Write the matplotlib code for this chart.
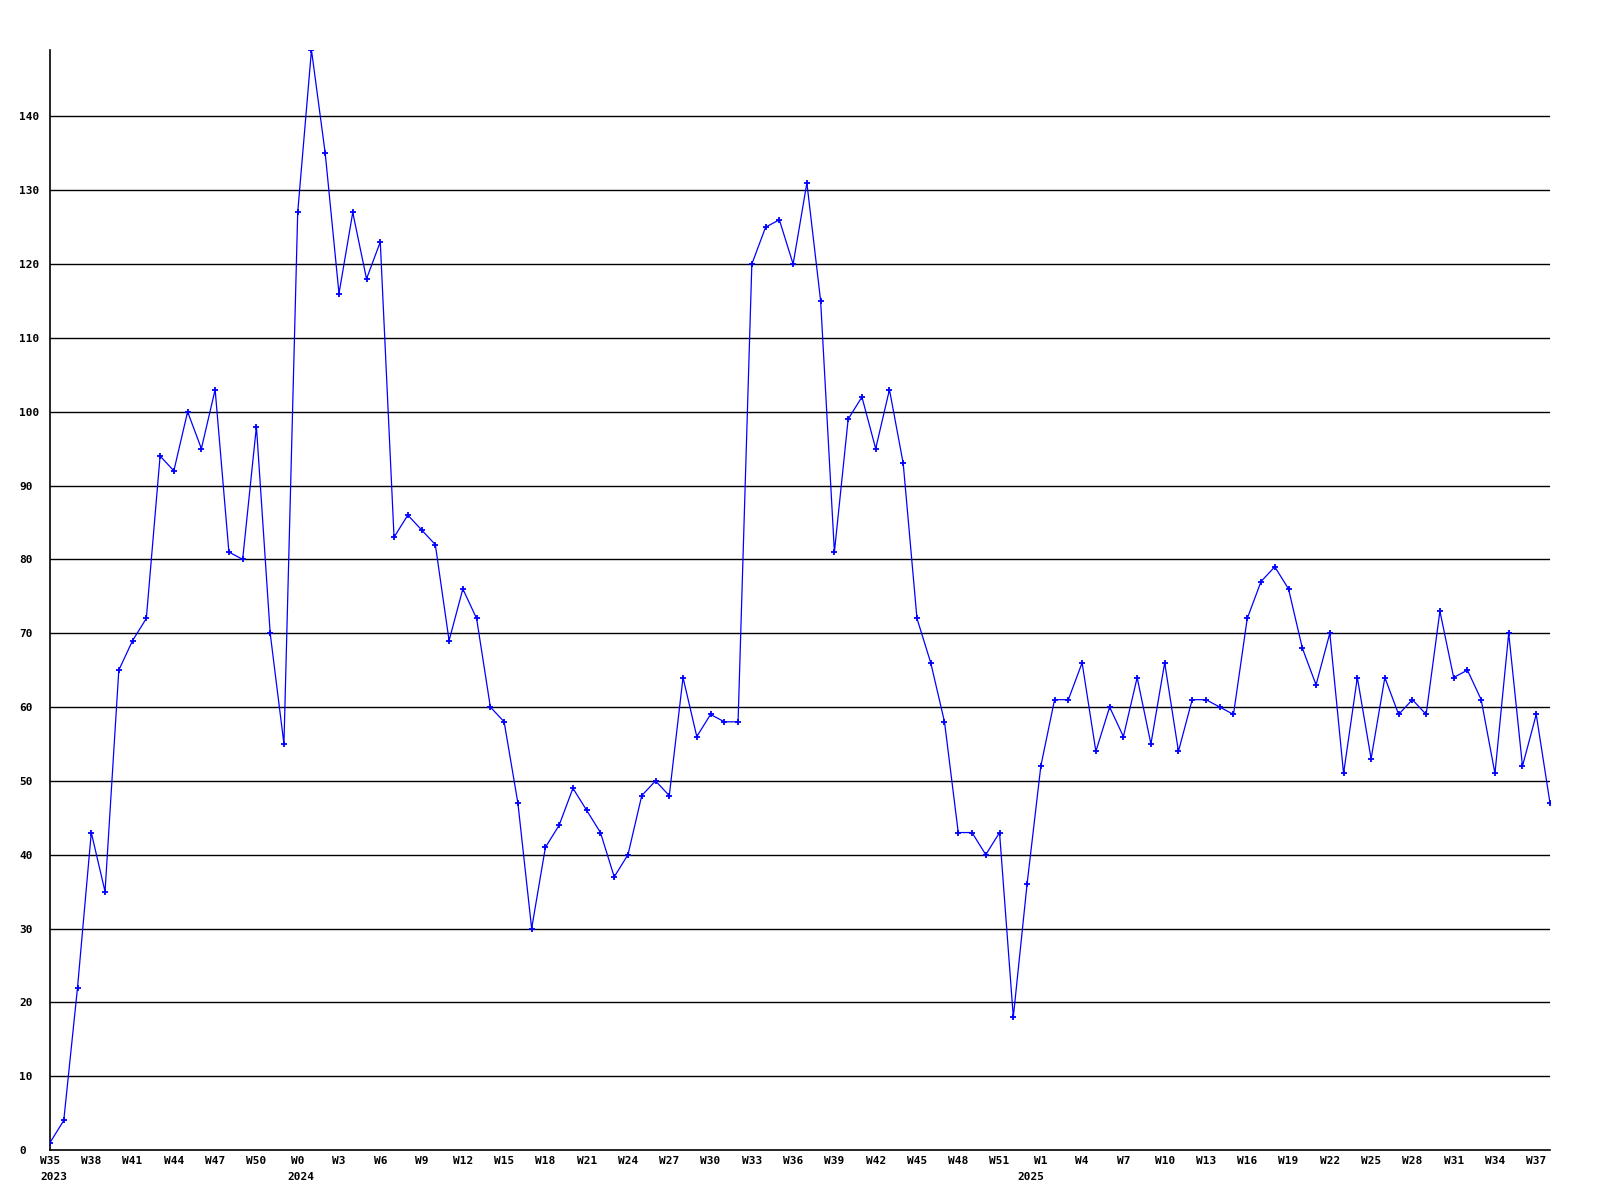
import matplotlib
matplotlib.use("Agg")
import matplotlib.pyplot as plt
from matplotlib.transforms import blended_transform_factory, offset_copy

## DONNÉES

# une valeur par semaine, de W35 2023 à W38 2025
valeurs = [1, 4, 22, 43, 35, 65, 69, 72, 94, 92,
           100, 95, 103, 81, 80, 98, 70, 55, 127, 149,
           135, 116, 127, 118, 123, 83, 86, 84, 82, 69,
           76, 72, 60, 58, 47, 30, 41, 44, 49, 46,
           43, 37, 40, 48, 50, 48, 64, 56, 59, 58,
           58, 120, 125, 126, 120, 131, 115, 81, 99, 102,
           95, 103, 93, 72, 66, 58, 43, 43, 40, 43,
           18, 36, 52, 61, 61, 66, 54, 60, 56, 64,
           55, 66, 54, 61, 61, 60, 59, 72, 77, 79,
           76, 68, 63, 70, 51, 64, 53, 64, 59, 61,
           59, 73, 64, 65, 61, 51, 70, 52, 59, 47]
semaines = list(range(len(valeurs)))

etiquettes = ["W35", "W38", "W41", "W44", "W47", "W50",
              "W0", "W3", "W6", "W9", "W12", "W15", "W18", "W21", "W24",
              "W27", "W30", "W33", "W36", "W39", "W42", "W45", "W48", "W51",
              "W1", "W4", "W7", "W10", "W13", "W16", "W19", "W22", "W25",
              "W28", "W31", "W34", "W37"]
semaines_etiquettes = [0, 3, 6, 9, 12, 15,
                       18, 21, 24, 27, 30, 33, 36, 39, 42,
                       45, 48, 51, 54, 57, 60, 63, 66, 69,
                       72, 75, 78, 81, 84, 87, 90, 93, 96,
                       99, 102, 105, 108]

annees = ["2023", "2024", "2025"]
semaines_annees = [0, 18, 72]

graduations_y = list(range(0, 150, 10))

## FIGURE

police = {"family": "DejaVu Sans Mono", "weight": "bold", "size": 8}

fig = plt.figure(figsize=(16, 12), dpi=100)
ax = fig.add_axes([50 / 1600, 50 / 1200, 1500 / 1600, 1100 / 1200])
ax.set_xlim(0, 109)
ax.set_ylim(0, 149)

for y in graduations_y[1:]:
    ax.axhline(y, color="black", lw=1.0, zorder=1)

ax.plot(semaines, valeurs, color="#0000ff", lw=0.9, marker="+",
        ms=4, mew=1.3, zorder=3)

for cote in ["top", "right"]:
    ax.spines[cote].set_visible(False)
for cote in ["left", "bottom"]:
    ax.spines[cote].set_color("black")
    ax.spines[cote].set_linewidth(1.2)

ax.set_yticks(graduations_y)
ax.set_yticklabels([str(v) for v in graduations_y], fontdict=police)
ax.tick_params(axis="y", length=0, pad=22.3)
for t in ax.get_yticklabels():
    t.set_horizontalalignment("left")

ax.set_xticks(semaines_etiquettes)
ax.set_xticklabels(etiquettes, fontdict=police)
ax.tick_params(axis="x", length=0, pad=4.5)

# années sous la première semaine de chaque année
decalages = [3.5, 3, -9.5]
trans = blended_transform_factory(ax.transData, ax.transAxes)
for annee, s, dx in zip(annees, semaines_annees, decalages):
    tr = offset_copy(trans, fig=fig, x=dx, y=-27, units="dots")
    ax.text(s, 0, annee, transform=tr, ha="center", va="center", **police)

fig.savefig("out.png", dpi=100, facecolor="white")
